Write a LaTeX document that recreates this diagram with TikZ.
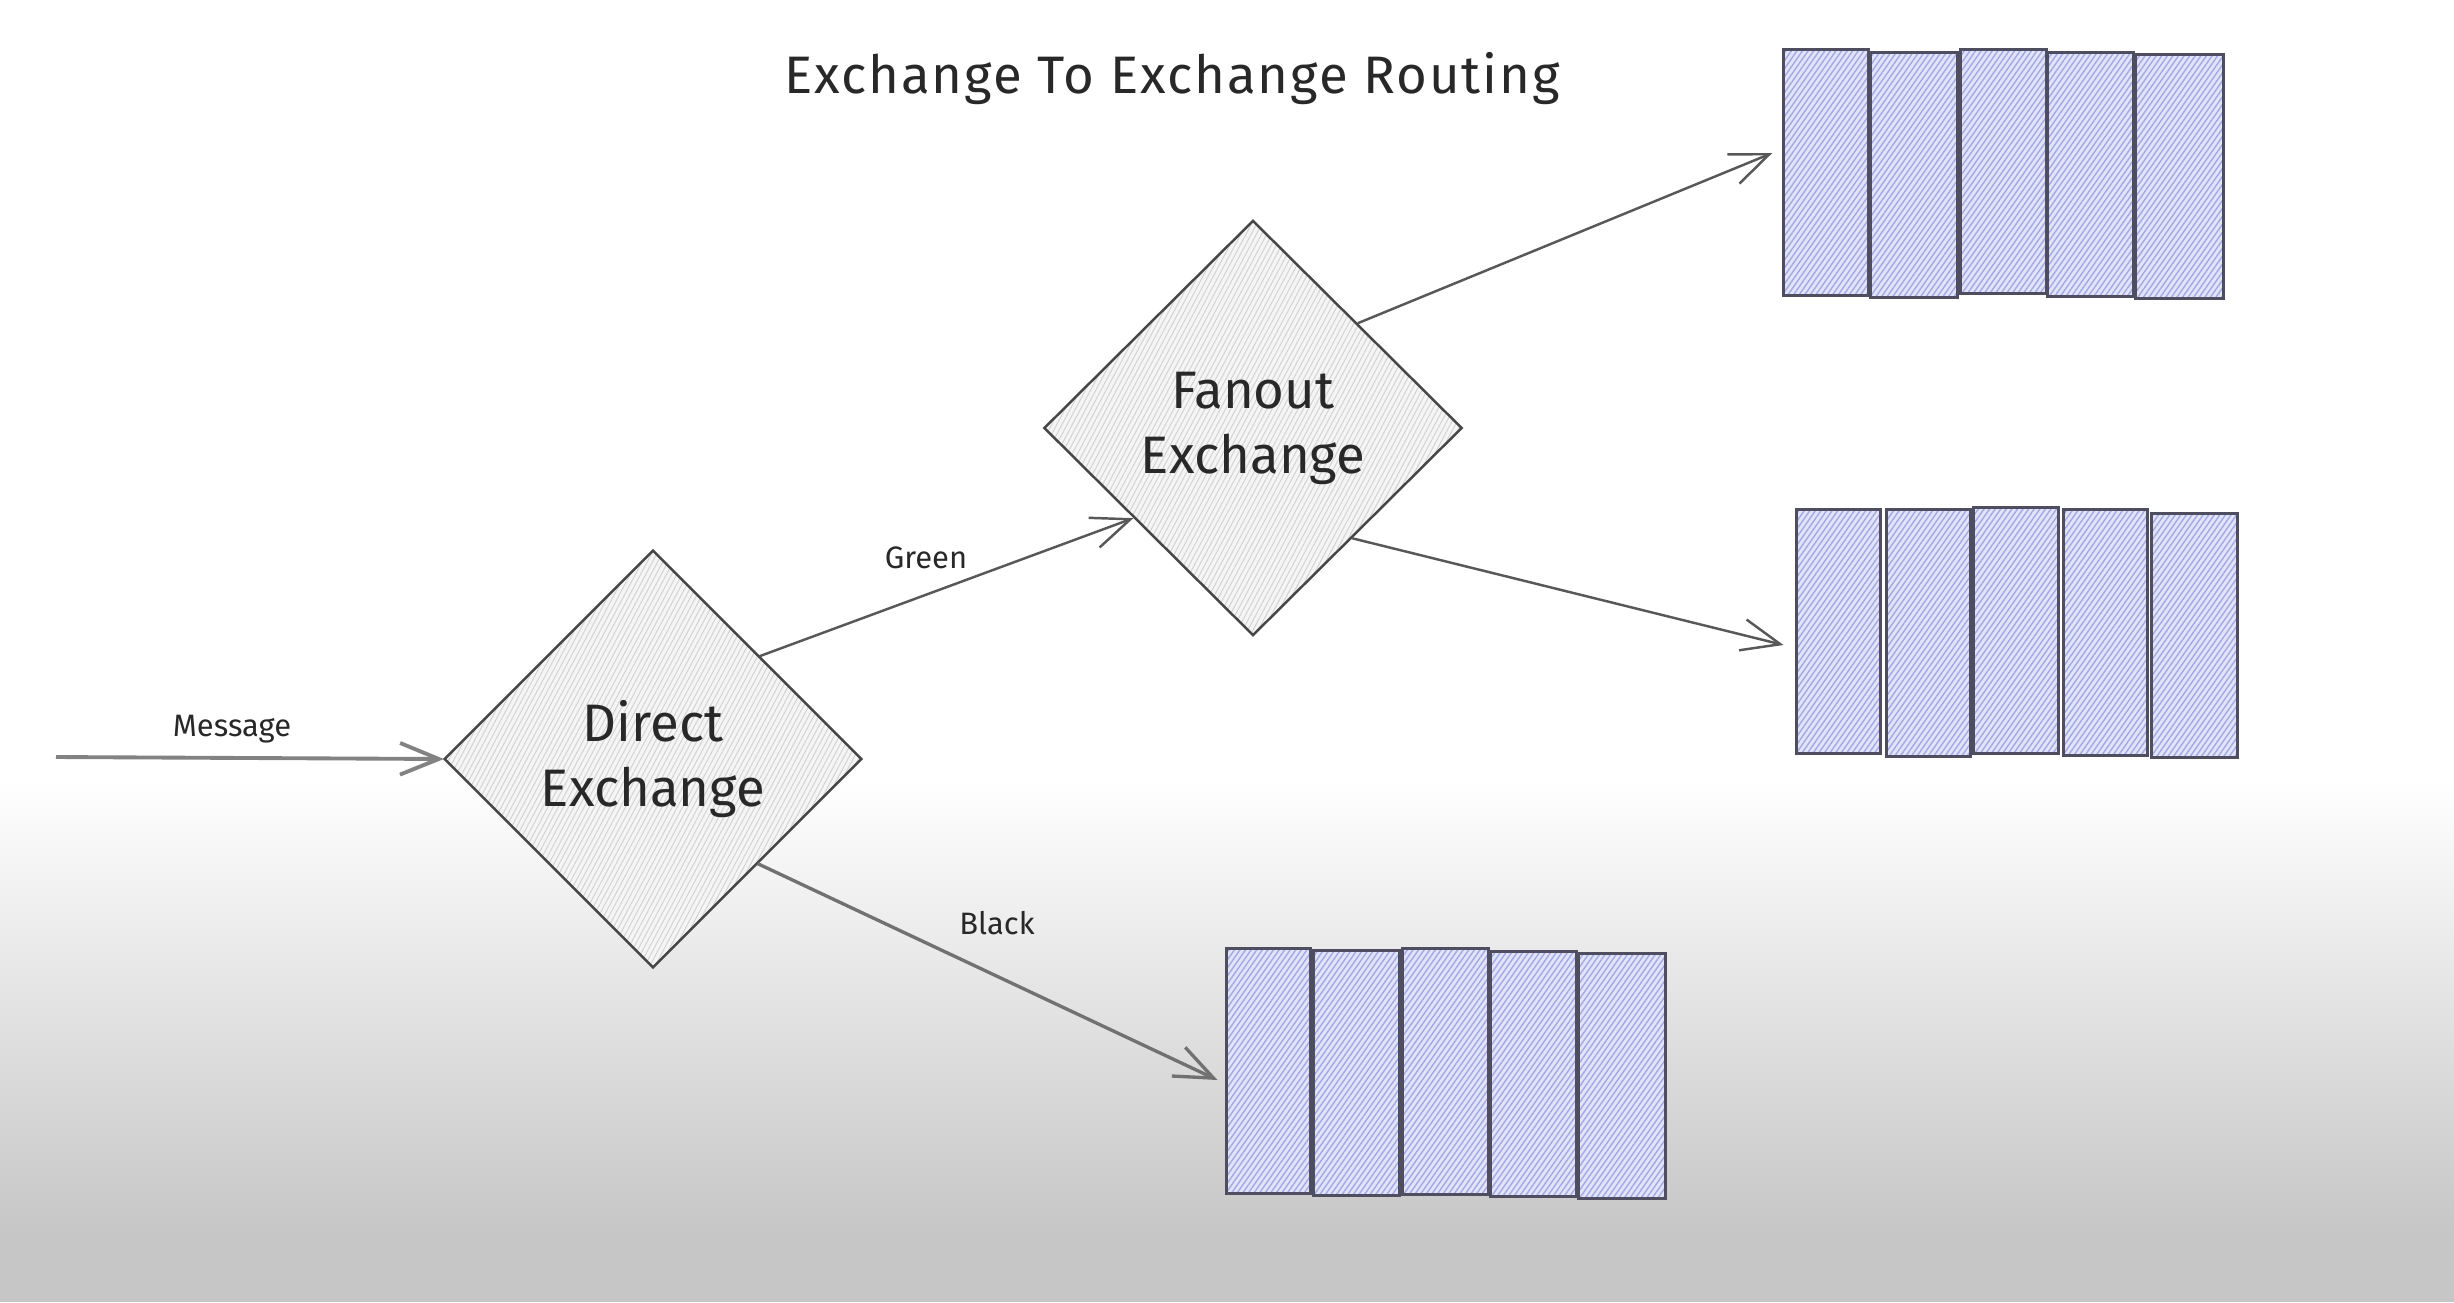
\documentclass[tikz,border=0pt]{standalone}
\usepackage{fontspec}
\newfontfamily\hand{Fira Sans}
\newfontfamily\handwide[LetterSpace=3.5]{Fira Sans}
\usetikzlibrary{arrows.meta,shapes.geometric,patterns.meta,fit,calc}
\definecolor{qfill}{RGB}{226,228,249}
\definecolor{qline}{RGB}{165,170,226}
\definecolor{qborder}{RGB}{78,78,96}
\definecolor{dfill}{RGB}{245,245,245}
\definecolor{dline}{RGB}{212,212,212}
\definecolor{dborder}{RGB}{70,70,70}
\definecolor{conncol}{RGB}{88,88,88}
\definecolor{bgbot}{RGB}{198,198,198}
\definecolor{txt}{RGB}{40,40,40}
\begin{document}
\begin{tikzpicture}[x=0.01cm,y=-0.01cm,
  xdiamond/.style={diamond, draw=dborder, line width=0.7pt,
    preaction={fill=dfill},
    pattern={Lines[angle=62,distance=1.3pt,line width=0.3pt]}, pattern color=dline,
    inner sep=0pt, aspect=1, align=center,
    font=\hand\fontsize{15}{18.5}\selectfont, text=txt},
  qbox/.style={rectangle, draw=qborder, line width=0.85pt,
    preaction={fill=qfill},
    pattern={Lines[angle=55,distance=1.3pt,line width=0.42pt]}, pattern color=qline,
    inner sep=0pt},
  link/.style={draw=conncol, line width=0.7pt,
    -{Straight Barb[length=11pt,width=9pt]}},
  lbl/.style={font=\hand\fontsize{8.8}{10}\selectfont, text=txt, inner sep=0pt},
]
% background
\fill[white] (0,0) rectangle (2454,1302);
\shade[top color=white, bottom color=bgbot] (0,780) rectangle (2454,1235);
\fill[bgbot] (0,1234) rectangle (2454,1302);
\useasboundingbox (0,0) rectangle (2454,1302);

% title
\node[font=\handwide\fontsize{15}{18}\selectfont, text=txt, anchor=base] (title) at (1172,93) {Exchange To Exchange Routing};

% exchanges
\node[xdiamond, minimum width=4.17cm, minimum height=4.17cm] (direct) at (653,759) {Direct\\Exchange};
\node[xdiamond, minimum width=4.18cm, minimum height=4.15cm] (fanout) at (1253,428) {Fanout\\Exchange};

% queue 1
\node[qbox, fit={(1783,49)(1868,295)}] (q1a) {};
\node[qbox, fit={(1870,52)(1957,297)}] (q1b) {};
\node[qbox, fit={(1960,49)(2046,293)}] (q1c) {};
\node[qbox, fit={(2047,52)(2133,296)}] (q1d) {};
\node[qbox, fit={(2135,54)(2223,298)}] (q1e) {};
% queue 2
\node[qbox, fit={(1796,509)(1880,753)}] (q2a) {};
\node[qbox, fit={(1886,509)(1970,756)}] (q2b) {};
\node[qbox, fit={(1973,507)(2058,753)}] (q2c) {};
\node[qbox, fit={(2063,509)(2147,755)}] (q2d) {};
\node[qbox, fit={(2151,513)(2237,757)}] (q2e) {};
% queue 3
\node[qbox, fit={(1226,948)(1310,1193)}] (q3a) {};
\node[qbox, fit={(1313,950)(1399,1195)}] (q3b) {};
\node[qbox, fit={(1402,948)(1488,1194)}] (q3c) {};
\node[qbox, fit={(1490,951)(1576,1196)}] (q3d) {};
\node[qbox, fit={(1578,953)(1665,1198)}] (q3e) {};

% connectors
\coordinate (msgstart) at (56,757);
\draw[link, line width=1.1pt, draw=conncol!75] (msgstart) -- (direct.west);
\draw[link] (direct.44) -- (fanout.217);
\draw[link, line width=0.95pt, draw=conncol!85] (direct.-45) -- ($(q3a.west)+(-7,9.5)$);
\draw[link] (fanout.45) -- ($(q1a.west)+(-10,-19)$);
\draw[link] (fanout.-48) -- ($(q2a.west)+(-11,14)$);

% labels
\node[lbl] (lmsg) at (232,729) {Message};
\node[lbl] (lgreen) at (926,558) {Green};
\node[lbl] (lblack) at (997,923) {Black};
\end{tikzpicture}
\end{document}
